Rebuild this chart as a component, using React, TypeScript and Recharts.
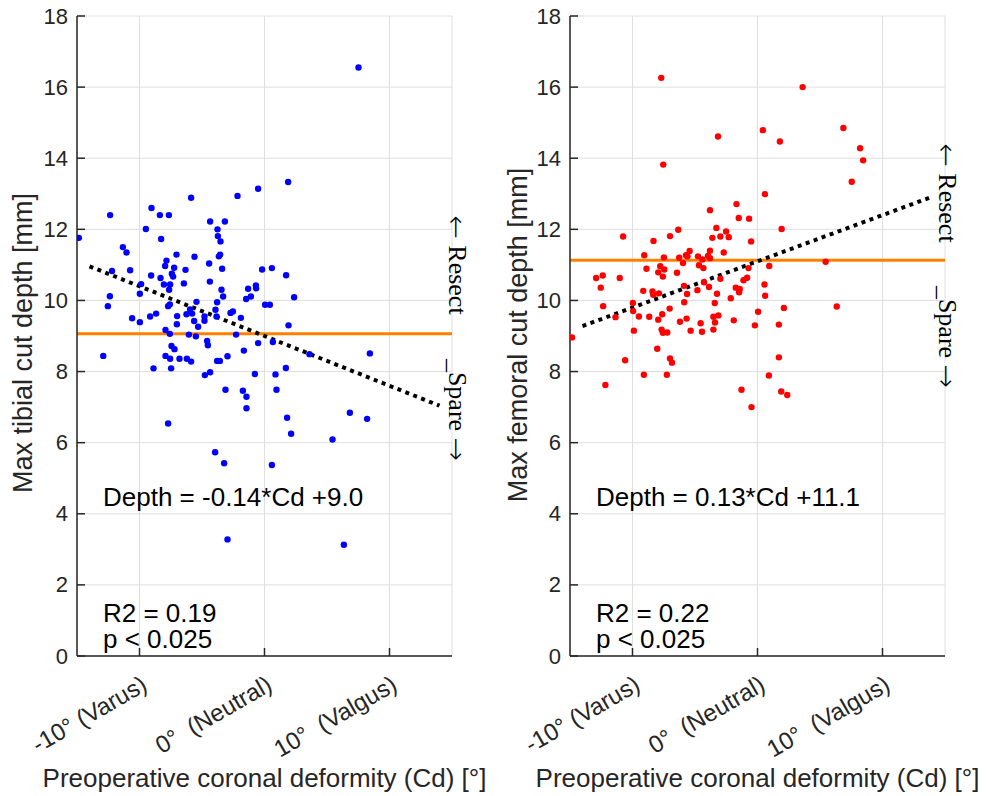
import React from 'react';
import { ScatterChart, Scatter, XAxis, YAxis, CartesianGrid, ReferenceLine } from 'recharts';

// tibial panel (blue)
const tibialCd = [
  -14.85, -12.35, -12.9, -12.53, -12.37, -12.2, -11.33, -11.04, -10.75, -10.59,
  -9.97, -9.97, -9.87, -9.49, -9.15, -9.07, -9.04, -8.88, -8.67, -8.37,
  -8.27, -8.32, -8.05, -7.95, -7.84, -7.92, -7.92, -7.65, -7.63, -7.55,
  -7.57, -7.71, -7.55, -7.47, -7.44, -7.41, -7.31, -7.23, -7.2, -7.57,
  -7.04, -6.99, -7.01, -6.8, -6.45, -6.32, -6.24, -6.21, -6.05, -5.87,
  -5.87, -5.95, -5.79, -5.6, -5.63, -5.49, -5.44, -5.31, -4.8, -4.8,
  -4.77, -4.59, -4.53, -4.43, -4.37, -4.35, -4.35, -3.92, -3.84, -3.79,
  -3.76, -3.73, -3.79, -3.57, -3.65, -3.55, -3.52, -3.39, -3.44, -3.31,
  -3.17, -3.12, -2.96, -2.72, -2.53, -2.27, -2.16, -1.89, -1.73, -1.65,
  -1.47, -1.44, -1.31, -1.09, -0.77, -0.69, -0.67, -0.51, -0.51, -0.19,
  0.05, 0.43, 0.59, 0.67, 0.88, 0.96, 1.71, 1.73, 1.89, 1.92,
  2.37, 3.6, 7.52, 8.43, -1.44, -7.71, -3.95, -3.23, 0.59, 1.81,
  2.13, 5.44, 6.83, 8.21, -2.96, 6.35,
];
const tibialDepth = [
  11.76, 12.4, 8.44, 9.84, 10.12, 10.83, 11.5, 11.35, 10.85, 9.5,
  9.39, 10.19, 10.46, 12.01, 9.55, 10.7, 12.6, 8.09, 9.63, 12.4,
  11.73, 10.63, 10.45, 10.97, 11.12, 9.17, 8.44, 12.4, 10.3, 10.45,
  9.89, 9.84, 8.36, 8.09, 8.72, 10.75, 10.67, 10.92, 8.63, 9.06,
  11.29, 9.56, 9.33, 8.36, 10.48, 10.86, 9.61, 8.36, 9.04, 8.28,
  12.89, 9.75, 9.63, 11.23, 9.42, 8.99, 9.96, 9.26, 9.55, 9.43,
  7.9, 8.86, 8.74, 11.04, 10.53, 12.22, 7.98, 9.74, 9.55, 9.95,
  12.0, 11.81, 8.3, 8.3, 11.24, 11.29, 11.66, 10.89, 10.3, 10.11,
  12.22, 7.49, 8.43, 9.65, 9.69, 9.04, 12.94, 9.51, 7.46, 8.59,
  10.04, 7.29, 10.33, 10.11, 7.93, 10.42, 10.34, 13.14, 8.8, 10.87,
  9.88, 9.88, 10.91, 8.83, 7.92, 7.49, 8.1, 10.71, 13.33, 9.3,
  10.09, 8.49, 16.55, 8.51, 6.97, 6.54, 5.73, 5.42, 5.37, 6.7,
  6.25, 6.09, 6.84, 6.67, 3.28, 3.13,
];

// femoral panel (red)
const femoralCd = [
  -14.84, -12.91, -12.38, -12.54, -12.35, -12.17, -11.36, -11.02, -10.75, -10.59,
  -9.97, -9.95, -9.89, -9.49, -9.14, -9.09, -9.06, -8.88, -8.66, -8.4,
  -8.32, -8.34, -8.02, -7.94, -7.94, -7.89, -7.78, -7.7, -7.67, -7.62,
  -7.57, -7.54, -7.57, -7.49, -7.46, -7.25, -7.22, -7.0, -7.03, -7.0,
  -6.84, -6.44, -6.34, -6.26, -6.2, -5.96, -5.88, -5.86, -5.72, -5.67,
  -5.61, -5.64, -5.43, -5.35, -4.81, -4.76, -4.68, -4.55, -4.44, -4.41,
  -4.33, -4.28, -3.96, -3.88, -3.8, -3.8, -3.8, -3.61, -3.53, -3.53,
  -3.42, -3.4, -3.29, -3.24, -3.16, -3.13, -2.97, -2.97, -2.7, -2.51,
  -2.3, -2.14, -1.9, -1.68, -1.74, -1.5, -1.47, -1.42, -1.28, -1.12,
  -0.83, -0.72, -0.67, -0.51, -0.21, 0.05, 0.43, 0.59, 0.56, 0.61,
  0.94, 0.91, 1.71, 1.71, 1.79, 1.9, 1.93, 2.11, 2.38, 3.61,
  5.45, 6.34, 6.87, 7.54, 8.21, 8.45, -0.48,
];
const femoralDepth = [
  8.96, 10.63, 10.7, 10.36, 9.84, 7.62, 9.53, 10.63, 11.8, 8.32,
  9.93, 9.7, 9.15, 9.55, 10.27, 7.91, 11.27, 10.89, 9.54, 10.25,
  11.67, 10.16, 8.64, 9.46, 10.79, 10.2, 10.96, 16.26, 9.18, 9.61,
  10.67, 13.82, 9.09, 11.21, 10.87, 7.91, 9.1, 11.81, 9.77, 8.37,
  8.25, 10.78, 11.99, 11.2, 9.4, 11.05, 10.41, 9.95, 11.27, 9.49,
  11.24, 10.18, 11.39, 9.15, 10.29, 11.24, 10.99, 9.36, 9.12, 11.15,
  10.91, 10.51, 11.25, 10.38, 11.4, 12.54, 11.19, 11.76, 9.54, 9.18,
  9.93, 9.38, 12.04, 10.19, 14.61, 9.58, 10.61, 11.8, 11.35, 11.94,
  11.78, 10.06, 9.44, 12.71, 10.36, 12.32, 10.23, 10.32, 7.49, 10.57,
  10.64, 10.91, 12.3, 11.66, 9.3, 9.68, 14.79, 12.99, 10.45, 10.13,
  10.97, 7.89, 9.32, 8.4, 14.47, 7.44, 12.01, 9.79, 7.34, 16.0,
  11.09, 9.83, 14.85, 13.34, 14.28, 13.94, 7.0,
];

const xTicks = [-10, 0, 10];
const xTickLabels = ['-10° (Varus)', '0°  (Neutral)', '10°  (Valgus)'];
const yTicks = [0, 2, 4, 6, 8, 10, 12, 14, 16, 18];

// fitted lines, read at the ends of the dotted segments
const fitCd = [-14, 14];
const tibialFit = [10.96, 7.04];
const femoralFit = [9.28, 12.92];
const tibialMean = 9.06;
const femoralMean = 11.13;

const W = 490;
const H = 796;
const LEFT = 77;
const RIGHT = 452;
const TOP = 16;
const BOTTOM = 656;
const SANS = '"Liberation Sans", Arial, sans-serif';
const SERIF = '"Liberation Serif", "Times New Roman", serif';
const ARROW = '"DejaVu Sans", sans-serif';
const INK = '#262626';

function XTick({ x, payload }: any) {
  const i = xTicks.indexOf(payload.value);
  const ax = x + 5;
  const ay = BOTTOM + 26;
  return (
    <g>
      <line x1={x} x2={x} y1={BOTTOM} y2={BOTTOM - 8} stroke={INK} strokeWidth={1.5} />
      <text
        x={ax} y={ay} transform={`rotate(-30 ${ax} ${ay})`}
        textAnchor="end" dominantBaseline="central"
        fontSize={24} fill={INK} fontFamily={SANS} style={{ whiteSpace: 'pre' }}
      >
        {xTickLabels[i]}
      </text>
    </g>
  );
}

function YTick({ y, payload }: any) {
  return (
    <g>
      <line x1={LEFT} x2={LEFT + 8} y1={y} y2={y} stroke={INK} strokeWidth={1.5} />
      <text x={LEFT - 9} y={y} textAnchor="end" dominantBaseline="central" fontSize={22} fill={INK} fontFamily={SANS}>
        {payload.value}
      </text>
    </g>
  );
}

interface PanelProps {
  cd: number[];
  depth: number[];
  color: string;
  fit: number[];
  mean: number;
  yLabel: string;
  yLabelX: number;
  yLabelY: number;
  equation: string;
  r2: string;
  sideX: number;
  resectY: number;
  spareY: number;
}

function Panel(props: PanelProps) {
  const { cd, depth, color, fit, mean, yLabel, yLabelX, yLabelY, equation, r2, sideX, resectY, spareY } = props;
  const data = cd.map((c, i) => ({ cd: c, depth: depth[i] }));
  return (
    <ScatterChart width={W} height={H} margin={{ top: TOP, right: W - RIGHT, bottom: 0, left: 0 }}>
      <CartesianGrid stroke="#dfdfdf" strokeWidth={1} />
      <XAxis
        type="number" dataKey="cd" domain={[-15, 15]} ticks={xTicks} interval={0}
        height={H - BOTTOM} allowDataOverflow
        axisLine={{ stroke: INK, strokeWidth: 1.5 }} tickLine={false} tick={<XTick />}
      />
      <YAxis
        type="number" dataKey="depth" domain={[0, 18]} ticks={yTicks} interval={0}
        width={LEFT} allowDataOverflow
        axisLine={{ stroke: INK, strokeWidth: 1.5 }} tickLine={false} tick={<YTick />}
      />
      <Scatter
        data={data} isAnimationActive={false}
        shape={(p: any) => <circle cx={p.cx} cy={p.cy} r={3.2} fill={color} />}
      />
      <ReferenceLine y={mean} stroke="#FF8000" strokeWidth={3} />
      <ReferenceLine
        segment={[{ x: fitCd[0], y: fit[0] }, { x: fitCd[1], y: fit[1] }]}
        stroke="#000" strokeWidth={4} strokeDasharray="4 4.5"
      />
      <text x={yLabelX} y={yLabelY} transform={`rotate(-90 ${yLabelX} ${yLabelY})`} textAnchor="middle"
        dominantBaseline="central" fontSize={27} fill={INK} fontFamily={SANS}>{yLabel}</text>
      <text x={264.5} y={787} textAnchor="middle" fontSize={26} fill={INK} fontFamily={SANS}>
        Preoperative coronal deformity (Cd) [°]
      </text>
      <text x={103} y={506} fontSize={26} fill="#000" fontFamily={SANS}>{equation}</text>
      <text x={103} y={622} fontSize={26} fill="#000" fontFamily={SANS}>
        <tspan x={103}>{r2}</tspan>
        <tspan x={103} dy={26}>p &lt; 0.025</tspan>
      </text>
      <text x={sideX} y={resectY} transform={`rotate(90 ${sideX} ${resectY})`} textAnchor="middle"
        dominantBaseline="central" fontSize={26} fill="#000" fontFamily={SERIF}>
        <tspan fontFamily={ARROW} fontWeight={200} fontSize={28}>←</tspan> Resect
      </text>
      <text x={sideX} y={spareY} transform={`rotate(90 ${sideX} ${spareY})`} textAnchor="middle"
        dominantBaseline="central" fontSize={26} fill="#000" fontFamily={SERIF}>
        _Spare <tspan fontFamily={ARROW} fontWeight={200} fontSize={28}>→</tspan>
      </text>
    </ScatterChart>
  );
}

export default function App() {
  return (
    <div style={{ position: 'absolute', left: 0, top: 0, width: 987, height: 796, background: '#fff' }}>
      <div style={{ position: 'absolute', left: 0, top: 0 }}>
        <Panel
          cd={tibialCd} depth={tibialDepth} color="#0000FF" fit={tibialFit} mean={tibialMean}
          yLabel="Max tibial cut depth [mm]" yLabelX={23} yLabelY={343}
          equation="Depth = -0.14*Cd +9.0" r2="R2 = 0.19"
          sideX={457} resectY={265} spareY={410}
        />
      </div>
      <div style={{ position: 'absolute', left: 493, top: 0 }}>
        <Panel
          cd={femoralCd} depth={femoralDepth} color="#FF0000" fit={femoralFit} mean={femoralMean}
          yLabel="Max femoral cut depth [mm]" yLabelX={25} yLabelY={335}
          equation="Depth = 0.13*Cd +11.1" r2="R2 = 0.22"
          sideX={454} resectY={193} spareY={337}
        />
      </div>
    </div>
  );
}
